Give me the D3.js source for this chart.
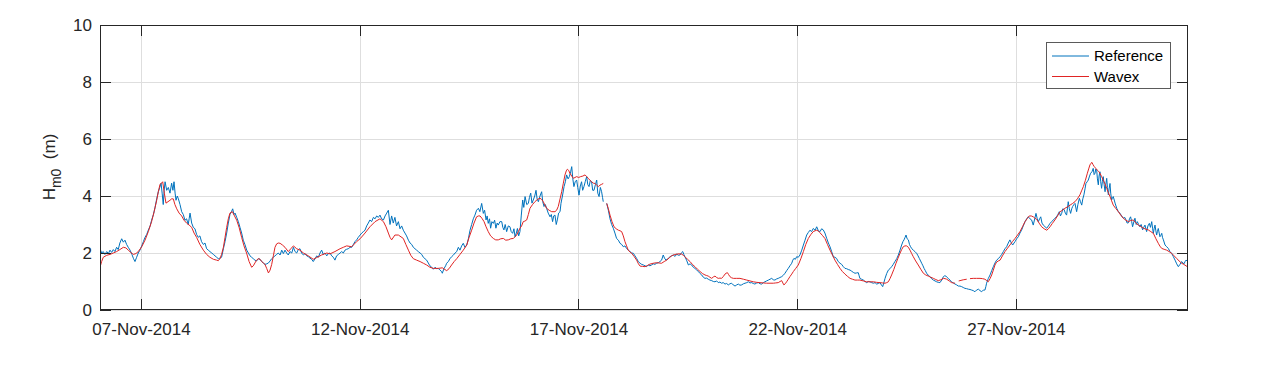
<!DOCTYPE html>
<html><head><meta charset="utf-8">
<script src="https://cdn.jsdelivr.net/npm/d3@7/dist/d3.min.js"></script>
<style>
html,body{margin:0;padding:0;background:#fff;}
svg{display:block;font-family:"Liberation Sans",Arial,Helvetica,sans-serif;}
</style></head>
<body><svg id="c" width="1274" height="370"></svg>
<script>
// ---- data: [hours since 06-Nov-2014 00:00, Hm0 (m)] ----
const xTickDates = ["2014-11-07","2014-11-12","2014-11-17","2014-11-22","2014-11-27"];
const yTicks = [0,2,4,6,8,10];
const seriesNames = ["Reference","Wavex"];
const timeRangeHours = [1.5, 598.4];

const referenceSeries = [
[1.5,2.15],[2.4,2.0],[3.3,2.05],[4.2,1.95],[5.2,2.05],[6.1,1.98],[7.0,2.1],[7.9,2.02],[8.8,2.12],[9.7,2.05],[10.6,2.2],[11.5,2.12],[12.4,2.35],[13.4,2.5],[14.3,2.38],[15.2,2.45],[16.1,2.3],[17.0,2.2],[18.0,2.1],[19.0,1.95],[19.9,1.8],[20.7,1.7],[21.6,1.85],[22.5,2.0],[23.4,2.1],[24.4,2.25],[25.3,2.4],[26.2,2.55],[27.1,2.65],[28.0,2.8],[29.0,2.95],[29.8,3.15],[30.8,3.35],[31.7,3.6],[32.6,3.9],[33.5,4.15],[34.3,4.3],[35.0,4.45],[35.6,4.1],[36.2,3.7],[36.7,4.2],[37.2,4.5],[38.1,4.2],[39.0,4.3],[39.9,4.1],[40.8,4.45],[41.5,4.2],[42.1,4.5],[42.7,4.1],[43.2,3.85],[43.9,4.0],[44.5,3.9],[45.4,3.7],[46.3,3.45],[47.2,3.35],[48.1,3.15],[49.0,3.2],[49.9,3.0],[50.4,3.2],[50.9,3.4],[51.8,3.05],[52.7,2.9],[53.6,2.85],[54.5,2.65],[55.4,2.55],[56.3,2.6],[57.2,2.4],[58.2,2.3],[59.1,2.35],[60.0,2.15],[60.9,2.1],[61.8,2.05],[62.8,2.0],[63.7,1.95],[64.6,1.9],[65.5,1.85],[66.4,1.8],[67.3,1.82],[68.2,1.85],[69.2,2.15],[70.1,2.4],[71.0,2.7],[71.9,3.05],[72.8,3.35],[73.6,3.45],[74.3,3.55],[75.0,3.35],[75.6,3.4],[76.5,3.25],[77.4,3.1],[78.3,2.9],[79.2,2.7],[80.1,2.45],[81.0,2.3],[82.0,2.1],[82.9,2.0],[83.8,1.9],[84.7,1.85],[85.6,1.8],[86.5,1.75],[87.4,1.72],[88.4,1.8],[89.3,1.78],[90.2,1.7],[91.1,1.65],[92.0,1.6],[93.0,1.62],[93.9,1.65],[94.8,1.72],[95.7,1.8],[96.6,1.85],[97.5,1.9],[98.4,1.95],[99.3,2.0],
[100.3,1.93],[101.2,2.1],[102.1,1.98],[103.0,2.1],[103.9,2.0],[104.8,1.93],[105.7,2.05],[106.7,2.0],[107.6,2.2],[108.5,2.05],[109.4,2.0],[110.3,2.12],[111.2,2.15],[112.1,2.0],[113.1,1.93],[114.0,1.98],[114.9,1.9],[115.8,1.87],[116.7,1.82],[117.6,1.78],[118.5,1.7],[119.5,1.8],[120.4,1.9],[121.3,1.85],[122.2,2.0],[123.1,2.1],[124.0,1.95],[124.9,2.0],[125.9,1.9],[126.8,1.98],[127.7,2.0],[128.6,1.9],[129.5,1.85],[130.4,1.75],[131.3,1.9],[132.3,1.95],[133.2,2.0],[134.1,2.05],[135.0,2.0],[135.9,2.1],[136.8,2.13],[137.7,2.15],[138.7,2.2],[139.6,2.2],[140.5,2.3],[141.4,2.4],[142.3,2.46],[143.2,2.55],[144.2,2.63],[145.1,2.7],[146.0,2.75],[146.9,2.8],[147.8,2.95],[148.7,3.05],[149.6,3.16],[150.5,3.1],[151.5,3.25],[152.4,3.2],[153.3,3.3],[154.2,3.25],[155.1,3.33],[156.0,3.2],[157.0,3.16],[157.9,3.3],[158.8,3.4],[159.7,3.5],[160.6,3.0],[161.5,3.3],[162.4,3.05],[163.3,3.25],[164.2,2.95],[165.2,3.1],[166.1,2.85],[167.0,2.95],[167.9,2.8],[168.8,2.7],[169.7,2.6],[170.7,2.45],[171.6,2.35],[172.5,2.3],[173.4,2.2],[174.3,2.15],[175.2,2.1],[176.1,2.05],[177.1,2.0],[178.0,1.95],[178.9,1.85],[179.8,1.8],[180.7,1.75],[181.6,1.65],[182.5,1.55],[183.5,1.5],[184.4,1.43],[185.3,1.5],[186.2,1.45],[187.1,1.46],[188.0,1.4],[188.9,1.35],[189.3,1.29],[190.2,1.45],[191.1,1.55],[191.7,1.64],[192.6,1.7],[193.5,1.8],[194.4,1.87],[195.3,1.92],[196.3,2.0],[197.2,2.05],[198.1,2.2],
[199.0,2.1],[199.9,2.25],[200.8,2.34],[201.7,2.2],[202.7,2.28],[203.6,2.5],[204.5,2.8],[205.4,3.0],[206.3,3.2],[207.2,3.33],[208.1,3.5],[209.1,3.57],[209.9,3.45],[210.9,3.74],[211.8,3.39],[212.5,3.5],[213.3,3.16],[213.9,3.3],[214.5,3.04],[215.2,3.2],[215.8,2.87],[216.5,3.1],[217.3,3.04],[218.0,3.15],[218.7,2.87],[219.4,3.05],[220.0,2.98],[220.9,3.1],[221.9,3.1],[222.5,2.9],[223.1,2.81],[223.8,3.0],[224.6,2.75],[225.5,2.95],[226.4,2.92],[227.1,2.75],[227.9,2.69],[228.6,2.85],[229.2,2.57],[229.9,2.7],[230.5,2.86],[231.2,2.6],[231.9,2.75],[232.6,3.3],[233.4,3.86],[234.0,3.6],[234.7,3.98],[235.6,3.7],[236.5,3.74],[237.1,3.95],[237.8,4.1],[238.5,3.75],[239.2,3.86],[240.0,4.0],[240.7,4.2],[241.3,3.9],[242.0,3.8],[242.9,4.0],[243.8,4.15],[244.4,3.8],[245.1,3.63],[245.8,3.7],[246.5,3.57],[247.4,3.4],[248.4,3.27],[249.1,3.35],[249.8,3.1],[250.4,3.3],[251.1,3.33],[251.8,3.0],[252.4,3.16],[253.1,3.4],[253.9,3.45],[254.4,3.74],[255.2,4.0],[256.1,4.33],[256.8,4.5],[257.5,4.74],[258.3,4.6],[259.0,4.68],[259.7,4.85],[260.3,5.03],[260.9,4.6],[261.5,4.33],[262.2,4.5],[263.0,4.56],[263.6,4.3],[264.3,4.03],[265.0,4.35],[265.7,4.5],[266.3,4.2],[267.0,4.33],[267.7,4.5],[268.5,4.68],[269.1,4.4],[269.8,4.33],[270.5,4.55],[271.2,4.5],[271.8,4.2],[272.5,4.2],[273.3,4.4],[274.0,4.56],[274.6,4.1],[275.3,3.98],[276.0,4.3],[276.7,4.15],[277.2,3.95],[277.6,3.8],[278.5,null],[279.5,3.74],[280.4,3.5],[281.3,3.2],[282.2,3.0],[283.1,2.87],[284.0,2.7],[284.9,2.51],[285.9,2.45],[286.8,2.34],[287.7,2.3],[288.6,2.22],[289.5,2.25],[290.4,2.16],[291.3,2.1],[292.3,2.05],[293.2,2.0],[294.1,1.99],[295.0,1.9],[295.9,1.81],[296.8,1.7],[297.8,1.64],
[298.7,1.6],[299.6,1.58],[300.5,1.55],[301.4,1.52],[302.3,1.58],[303.2,1.55],[304.1,1.58],[305.0,1.62],[305.9,1.6],[306.9,1.64],[307.8,1.66],[308.7,1.7],[309.6,1.75],[310.5,1.93],[311.2,1.82],[312.0,1.75],[313.1,1.8],[314.2,1.87],[315.1,1.9],[316.0,1.93],[317.0,1.88],[317.9,1.96],[318.8,1.92],[319.7,1.93],[320.4,2.0],[321.2,2.05],[321.8,1.95],[322.4,1.87],[323.3,1.75],[324.3,1.58],[325.2,1.62],[326.1,1.58],[327.0,1.5],[327.9,1.46],[328.9,1.4],[329.8,1.35],[330.7,1.28],[331.6,1.23],[332.5,1.15],[333.4,1.11],[334.3,1.12],[335.2,1.08],[336.1,1.05],[337.1,1.03],[338.0,1.0],[338.9,0.99],[339.8,1.02],[340.7,0.96],[341.6,0.98],[342.5,0.94],[343.4,0.96],[344.4,0.91],[345.3,0.93],[346.2,0.88],[347.1,0.92],[348.0,0.94],[348.9,0.88],[349.9,0.84],[350.8,0.88],[351.7,0.91],[352.6,0.87],[353.5,0.88],[354.5,0.92],[355.4,0.94],[356.3,0.96],[357.2,0.99],[358.1,0.95],[359.0,0.96],[359.9,0.93],[360.8,0.91],[361.8,0.95],[362.7,0.96],[363.6,0.92],[364.5,0.91],[365.4,0.96],[366.3,0.99],[367.2,1.02],[368.2,1.05],[369.1,1.08],[370.0,1.11],[370.9,1.06],[371.8,1.05],[372.7,1.09],[373.6,1.11],[374.5,1.14],[375.5,1.17],[376.4,1.22],[377.3,1.29],[378.2,1.38],[379.1,1.46],[380.0,1.55],[381.0,1.64],[381.6,1.75],[382.2,1.81],[383.0,1.78],[383.7,1.87],[384.6,1.85],[385.5,1.93],[386.5,2.1],[387.4,2.28],[388.3,2.45],[389.2,2.63],[390.1,2.72],[391.0,2.8],[391.9,2.75],[392.8,2.86],[393.8,2.8],[394.7,2.92],[395.6,2.78],
[396.5,2.75],[397.4,2.85],[398.3,2.81],[399.2,2.7],[400.2,2.51],[401.1,2.35],[402.0,2.22],[402.9,2.05],[403.8,1.87],[404.7,1.85],[405.6,1.81],[406.5,1.7],[407.5,1.64],[408.4,1.6],[409.3,1.52],[410.2,1.46],[411.1,1.45],[412.0,1.42],[413.0,1.4],[413.9,1.36],[414.8,1.32],[415.7,1.29],[416.6,1.3],[417.5,1.31],[418.0,1.2],[418.4,1.11],[419.3,1.08],[420.3,1.05],[421.2,1.0],[422.1,0.96],[423.0,1.0],[423.9,0.99],[424.8,0.96],[425.8,0.94],[426.7,0.96],[427.6,0.91],[428.5,0.93],[429.4,0.96],[430.2,0.88],[430.9,0.82],[431.5,0.95],[432.2,1.11],[433.1,1.28],[434.0,1.4],[434.9,1.45],[435.8,1.52],[436.7,1.6],[437.6,1.7],[438.6,1.8],[439.5,1.93],[440.4,2.1],[441.3,2.28],[442.0,2.4],[442.6,2.46],[443.2,2.55],[443.7,2.63],[444.3,2.5],[445.0,2.46],[445.6,2.3],[446.2,2.22],[446.9,2.15],[447.7,2.1],[448.6,2.05],[449.5,1.99],[450.3,1.9],[451.0,1.81],[451.7,1.72],[452.3,1.64],[453.0,1.55],[453.6,1.46],[454.3,1.38],[455.0,1.29],[455.9,1.22],[456.8,1.17],[457.7,1.1],[458.7,1.05],[459.6,1.02],[460.5,0.99],[461.4,0.97],[462.3,0.96],[463.3,1.05],[464.2,1.17],[464.9,1.2],[465.6,1.19],[466.3,1.14],[466.9,1.11],[467.8,1.05],[468.7,0.99],[469.6,0.95],[470.6,0.91],[471.5,0.88],[472.4,0.84],[473.3,0.84],[474.2,0.82],[475.1,0.79],[476.0,0.76],[476.9,0.75],[477.9,0.73],[478.8,0.72],[479.7,0.7],[480.6,0.68],[481.5,0.64],[482.4,0.7],[483.4,0.73],[484.3,0.68],[485.2,0.64],[486.1,0.7],[487.0,0.7],[487.5,0.82],[487.9,0.94],[488.8,1.1],[489.8,1.23],[490.7,1.38],[491.6,1.52],[492.5,1.65],[493.4,1.75],[494.3,1.8],
[495.3,1.87],[496.2,1.95],[497.1,2.05],[498.0,2.15],[498.9,2.22],[499.8,2.35],[500.7,2.46],[501.5,2.35],[502.2,2.28],[503.5,2.4],[504.4,2.5],[505.3,2.57],[506.2,2.7],[507.1,2.8],[508.0,2.95],[509.0,3.1],[509.9,3.2],[510.8,3.27],[511.7,3.2],[512.6,3.16],[513.5,2.98],[514.3,3.2],[515.0,3.39],[515.7,3.2],[516.3,3.1],[517.0,3.2],[517.6,3.27],[518.3,3.05],[519.0,2.98],[520.0,2.92],[520.9,2.87],[521.8,2.95],[522.7,3.04],[523.6,3.1],[524.5,3.16],[525.4,3.22],[526.3,3.27],[527.0,3.35],[527.8,3.45],[528.4,3.3],[529.1,3.39],[529.7,3.55],[530.4,3.53],[531.1,3.4],[531.8,3.33],[532.7,3.8],[533.3,3.55],[534.0,3.39],[534.6,3.55],[535.1,3.63],[535.8,3.7],[536.4,3.74],[537.3,3.45],[538.0,3.7],[538.8,3.92],[539.4,3.8],[540.1,3.68],[540.7,3.9],[541.3,4.04],[541.9,4.25],[542.4,4.44],[543.1,4.5],[543.7,4.56],[544.4,4.7],[545.0,4.8],[545.7,4.85],[546.4,4.97],[546.9,4.75],[547.4,4.8],[547.8,4.95],[548.3,4.91],[548.7,4.6],[549.2,4.39],[549.6,4.7],[550.1,4.85],[550.5,4.5],[551.0,4.27],[551.4,4.5],[551.9,4.68],[552.4,4.4],[552.9,4.15],[553.3,4.4],[553.8,4.62],[554.2,4.3],[554.7,4.04],[555.1,4.25],[555.6,4.44],[556.0,4.1],[556.5,3.86],[557.0,3.95],[557.4,3.98],[558.4,3.75],[559.3,3.57],[560.2,3.45],[561.1,3.39],[562.0,3.3],[562.9,3.22],[563.7,3.25],[564.4,3.16],[565.0,3.05],[565.7,3.06],[566.3,3.2],[566.9,3.27],[567.5,3.1],[568.0,2.92],[568.7,3.1],[569.3,3.22],[570.0,3.0],[570.6,3.1],[571.3,3.0],[572.0,2.92],[572.7,3.0],[573.5,2.81],[574.1,2.9],[574.8,2.98],[575.3,2.85],[575.7,2.75],[576.4,2.95],[577.2,3.04],[577.8,2.9],[578.5,3.1],[579.0,2.85],[579.4,2.69],[579.8,2.85],[580.3,2.98],[580.7,2.8],[581.2,2.63],[581.6,2.75],[582.1,2.86],[582.6,2.7],[583.0,2.57],[583.5,2.62],[584.0,2.69],[584.4,2.55],[584.9,2.46],[585.8,2.28],[586.7,2.22],[587.6,2.16],[588.5,2.05],[589.4,1.99],[590.3,1.88],[591.3,1.75],[592.2,1.62],[593.1,1.52],[594.0,1.6],[594.9,1.7],[595.6,1.65],[596.2,1.62],[596.8,1.7],[597.3,1.75],[598.0,1.72],[598.6,1.75]
];

const wavexSeries = [
[1.5,1.5],[2.4,1.7],[3.3,1.85],[5.2,1.92],[7.0,1.95],[8.8,2.0],[10.6,2.05],[12.4,2.12],[14.3,2.2],[15.7,2.18],[17.0,2.1],[18.4,2.02],[19.8,1.95],[21.2,1.98],[22.5,2.05],[24.4,2.22],[26.2,2.45],[28.0,2.75],[29.8,3.1],[31.2,3.45],[32.6,3.85],[33.5,4.15],[34.4,4.4],[35.9,4.5],[36.8,4.1],[37.7,3.75],[38.8,3.8],[39.9,3.85],[40.8,3.9],[41.7,3.9],[42.6,3.7],[43.6,3.55],[44.9,3.4],[46.3,3.3],[47.6,3.15],[49.0,3.05],[50.4,2.98],[51.8,2.9],[53.1,2.7],[54.5,2.55],[56.3,2.3],[58.2,2.1],[60.0,1.95],[61.8,1.85],[63.7,1.78],[65.5,1.75],[66.4,1.73],[67.3,1.8],[68.2,1.95],[69.2,2.2],[70.1,2.55],[71.0,2.9],[71.9,3.2],[72.8,3.4],[74.1,3.45],[75.3,3.3],[76.5,3.15],[77.8,2.9],[79.2,2.55],[80.5,2.25],[81.9,2.0],[83.3,1.7],[84.7,1.5],[85.6,1.55],[86.5,1.65],[87.4,1.75],[88.4,1.8],[89.3,1.78],[90.2,1.7],[91.1,1.65],[92.0,1.6],[93.0,1.45],[93.9,1.3],[94.8,1.4],[95.7,1.6],[96.6,1.9],[97.5,2.2],[98.4,2.32],[99.3,2.35],
[100.3,2.34],[101.6,2.28],[103.0,2.2],[104.8,2.05],[106.2,2.15],[107.6,2.25],[109.4,2.15],[111.2,2.1],[113.1,2.0],[115.8,1.9],[118.5,1.78],[120.4,1.84],[123.1,1.93],[125.9,2.0],[127.7,1.97],[130.4,2.05],[133.2,2.15],[135.0,2.2],[136.8,2.25],[139.6,2.22],[142.3,2.4],[144.2,2.5],[146.9,2.7],[149.6,2.92],[152.4,3.1],[155.1,3.2],[157.0,3.1],[158.4,2.92],[159.7,2.7],[160.6,2.55],[161.5,2.46],[163.3,2.63],[165.2,2.63],[167.9,2.51],[169.3,2.3],[170.7,2.1],[172.0,1.92],[173.4,1.8],[175.2,1.75],[177.1,1.7],[178.9,1.64],[180.7,1.58],[182.5,1.5],[184.4,1.46],[187.1,1.46],[189.3,1.48],[191.7,1.38],[193.0,1.45],[194.4,1.58],[195.8,1.7],[197.2,1.8],
[199.0,1.95],[200.8,2.1],[202.7,2.28],[204.0,2.55],[205.4,2.8],[206.7,3.05],[208.1,3.27],[209.1,3.3],[210.0,3.3],[211.0,3.22],[212.2,3.1],[213.3,2.92],[214.5,2.75],[215.8,2.6],[217.3,2.51],[218.6,2.46],[220.0,2.46],[221.4,2.5],[222.8,2.51],[224.1,2.45],[225.5,2.46],[226.9,2.5],[228.3,2.51],[230.1,2.63],[231.0,2.75],[231.9,2.87],[232.8,2.95],[233.7,3.1],[234.6,3.12],[235.6,3.16],[236.5,3.35],[237.4,3.57],[238.8,3.7],[240.1,3.8],[241.5,3.88],[242.9,3.92],[243.8,3.88],[244.7,3.8],[245.6,3.68],[246.5,3.57],[247.9,3.5],[249.3,3.45],[251.1,3.45],[252.0,3.5],[252.9,3.63],[253.9,3.9],[254.8,4.15],[255.7,4.45],[256.6,4.74],[257.3,4.88],[257.9,4.94],[258.6,4.9],[259.3,4.8],[260.3,4.7],[261.2,4.62],[262.1,4.65],[263.0,4.68],[264.1,4.65],[265.2,4.68],[266.4,4.7],[267.6,4.74],[268.5,4.68],[269.4,4.62],[270.3,4.55],[271.2,4.5],[272.2,4.45],[273.1,4.44],[274.0,4.38],[274.9,4.33],[275.8,4.38],[276.7,4.41],[277.6,4.44],[278.5,null],[279.5,3.74],[280.4,3.55],[281.3,3.33],[282.4,3.1],[283.5,2.92],[284.7,2.85],[285.9,2.8],[286.8,2.78],[287.7,2.75],[288.6,2.6],[289.5,2.4],[290.4,2.25],[291.3,2.1],[292.3,2.03],[293.2,1.99],[294.5,1.88],[295.9,1.75],[296.9,1.62],
[297.8,1.54],[299.1,1.53],[300.5,1.52],[301.8,1.56],[303.2,1.61],[305.0,1.64],[306.9,1.66],[308.2,1.65],[309.6,1.64],[311.0,1.7],[312.4,1.75],[313.8,1.83],[315.1,1.9],[316.5,1.94],[317.9,1.96],[319.2,1.97],[320.6,1.96],[321.5,1.92],[322.4,1.87],[323.8,1.78],[325.2,1.7],[326.5,1.6],[327.9,1.52],[329.3,1.43],[330.7,1.35],[332.0,1.28],[333.4,1.23],[334.3,1.21],[335.2,1.19],[336.1,1.15],[337.1,1.11],[338.0,1.16],[338.9,1.19],[339.8,1.14],[340.7,1.11],[341.6,1.12],[342.5,1.11],[343.4,1.17],[344.4,1.26],[345.0,1.29],[345.7,1.31],[346.4,1.24],[347.1,1.17],[348.0,1.13],[349.0,1.11],[350.8,1.11],[352.6,1.11],[354.5,1.08],[356.3,1.05],[358.1,1.02],[359.9,0.99],[361.8,0.97],[363.6,0.96],[365.4,0.95],[367.2,0.94],[369.1,0.94],[370.9,0.94],[372.2,0.95],[373.6,0.96],[374.6,1.0],[375.5,1.03],[376.1,0.95],[376.7,0.88],[377.4,0.92],[378.2,0.99],[379.1,1.08],[380.0,1.17],[381.0,1.26],[381.9,1.35],[383.2,1.46],[384.6,1.58],[386.0,1.8],[387.4,2.05],[388.7,2.3],[390.1,2.51],[391.5,2.65],[392.8,2.75],[393.8,2.78],[394.7,2.8],[395.6,2.77],
[396.5,2.71],[397.8,2.62],[399.2,2.51],[400.6,2.3],[402.0,2.1],[403.4,1.92],[404.7,1.75],[406.1,1.6],[407.5,1.46],[408.8,1.35],[410.2,1.26],[411.6,1.18],[413.0,1.11],[414.3,1.08],[415.7,1.05],[417.0,1.05],[418.4,1.05],[420.3,1.02],[422.1,0.99],[424.0,0.99],[425.8,0.99],[427.6,0.97],[429.4,0.96],[430.8,0.95],[432.2,0.94],[433.1,0.96],[434.0,0.99],[434.9,1.1],[435.8,1.23],[437.0,1.42],[438.2,1.64],[439.3,1.82],[440.4,1.99],[441.3,2.12],[442.2,2.22],[443.1,2.25],[444.0,2.25],[445.0,2.2],[445.9,2.1],[446.8,1.98],[447.7,1.87],[449.0,1.72],[450.4,1.58],[451.8,1.43],[453.2,1.29],[454.5,1.23],[455.9,1.19],[457.3,1.15],[458.7,1.11],[460.0,1.07],[461.4,1.03],[462.8,1.06],[464.2,1.11],[465.1,1.1],[466.0,1.08],[467.4,1.02],[468.7,0.96],[469.6,0.95],[470.6,0.94],[471.6,null],[472.6,1.02],[473.3,1.03],[475.1,1.06],[477.0,1.08],[477.9,null],[478.8,1.1],[480.6,1.11],[482.4,1.11],[484.3,1.11],[485.7,1.1],[487.0,1.08],[488.0,1.03],[488.8,0.99],[489.8,1.1],[490.7,1.23],[491.6,1.4],[492.5,1.58],[493.4,1.68],[494.3,1.72],
[495.3,1.75],[496.6,1.9],[498.0,2.05],[499.4,2.17],[500.7,2.28],[502.1,2.4],[503.5,2.51],[504.9,2.63],[506.2,2.75],[507.6,2.92],[509.0,3.1],[510.1,3.2],[511.3,3.3],[512.4,3.3],[513.5,3.27],[514.4,3.22],[515.4,3.18],[516.7,3.05],[518.1,2.92],[519.5,2.85],[520.9,2.8],[521.8,2.85],[522.7,2.92],[524.0,3.04],[525.4,3.16],[526.8,3.3],[528.2,3.45],[529.6,3.5],[530.9,3.57],[532.3,3.62],[533.7,3.68],[535.1,3.74],[536.4,3.8],[537.7,3.9],[539.1,4.04],[540.0,4.18],[541.0,4.33],[542.1,4.55],[543.2,4.8],[543.9,4.95],[544.6,5.09],[545.2,5.15],[545.7,5.18],[546.3,5.1],[547.0,5.03],[547.8,4.97],[548.6,4.91],[549.4,4.86],[550.1,4.8],[551.0,4.68],[551.9,4.56],[552.9,4.42],[553.8,4.27],[554.7,4.12],[555.6,3.98],[556.5,3.83],[557.4,3.68],[558.8,3.56],[560.2,3.45],[561.5,3.33],[562.9,3.22],[564.3,3.15],[565.7,3.1],[567.0,3.14],[568.4,3.16],[569.7,3.06],[571.1,2.98],[572.5,2.93],[573.9,2.87],[575.2,2.84],[576.6,2.81],[578.0,2.75],[579.4,2.69],[580.8,2.5],[582.1,2.34],[583.0,2.24],[584.0,2.16],[585.3,2.13],[586.7,2.1],[588.0,2.05],[589.4,1.99],[590.8,1.9],[592.2,1.81],[593.5,1.72],[594.9,1.64],[596.1,1.6],[597.3,1.55],[598.6,1.5]
];

// ---- rendering ----
const t0 = Date.UTC(2014, 10, 6);
const toDate = h => new Date(t0 + h * 3600e3);
const M = {left: 100, right: 1188, top: 25, bottom: 310};
const W = M.right - M.left, H = M.bottom - M.top;
const axisColor = "#262626";
const colors = {Reference: "#0072BD", Wavex: "#E02424"};

const svg = d3.select("#c");
const x = d3.scaleUtc().domain(timeRangeHours.map(toDate)).range([M.left, M.right]);
const y = d3.scaleLinear().domain([0, 10]).range([M.bottom, M.top]);
const xTicks = xTickDates.map(s => new Date(s + "T00:00:00Z"));
const fmt = d3.utcFormat("%d-%b-%Y");

svg.append("rect").attr("width", 1274).attr("height", 370).attr("fill", "#fff");

// grid
const grid = svg.append("g").attr("class", "grid");
grid.append("g").attr("transform", `translate(0,${M.bottom})`)
  .call(d3.axisBottom(x).tickValues(xTicks).tickSize(-H).tickFormat(""));
grid.append("g").attr("transform", `translate(${M.left},0)`)
  .call(d3.axisLeft(y).tickValues(yTicks).tickSize(-W).tickFormat(""));
grid.selectAll(".domain").remove();
grid.selectAll("line").attr("stroke", "#dedede").attr("stroke-width", 1).attr("shape-rendering", "crispEdges");

// clip
svg.append("defs").append("clipPath").attr("id", "clip")
  .append("rect").attr("x", M.left).attr("y", M.top).attr("width", W).attr("height", H);

const line = d3.line()
  .defined(d => d[1] !== null)
  .x(d => x(toDate(d[0])))
  .y(d => y(d[1]));

const plot = svg.append("g").attr("clip-path", "url(#clip)");
plot.append("path").datum(referenceSeries)
  .attr("fill", "none").attr("stroke", colors.Reference).attr("stroke-width", 1).attr("stroke-linejoin", "round")
  .attr("d", line);
plot.append("path").datum(wavexSeries)
  .attr("fill", "none").attr("stroke", colors.Wavex).attr("stroke-width", 1).attr("stroke-linejoin", "round")
  .attr("d", line);

// axes
const tickLen = 11;
function styleAxis(g, showLabels) {
  g.select(".domain").remove();
  g.selectAll("line").attr("stroke", axisColor).attr("stroke-width", 1).attr("shape-rendering", "crispEdges");
  g.selectAll("text").attr("fill", axisColor).attr("font-size", "17px")
    .attr("font-family", '"Liberation Sans", Arial, Helvetica, sans-serif');
  if (!showLabels) g.selectAll("text").remove();
}
svg.append("g").attr("transform", `translate(0,${M.bottom})`)
  .call(d3.axisBottom(x).tickValues(xTicks).tickSize(-tickLen).tickPadding(13).tickFormat(fmt))
  .call(g => styleAxis(g, true));
svg.append("g").attr("transform", `translate(0,${M.top})`)
  .call(d3.axisTop(x).tickValues(xTicks).tickSize(-tickLen).tickFormat(""))
  .call(g => styleAxis(g, false));
svg.append("g").attr("transform", `translate(${M.left},0)`)
  .call(d3.axisLeft(y).tickValues(yTicks).tickSize(-tickLen).tickPadding(8).tickFormat(d3.format("d")))
  .call(g => styleAxis(g, true));
svg.append("g").attr("transform", `translate(${M.right},0)`)
  .call(d3.axisRight(y).tickValues(yTicks).tickSize(-tickLen).tickFormat(""))
  .call(g => styleAxis(g, false));

// box
svg.append("rect").attr("x", M.left + 0.5).attr("y", M.top + 0.5)
  .attr("width", W - 1).attr("height", H - 1)
  .attr("fill", "none").attr("stroke", axisColor).attr("stroke-width", 1);

// y label
const yl = svg.append("text")
  .attr("transform", "translate(55,167) rotate(-90)")
  .attr("text-anchor", "middle").attr("fill", axisColor).attr("font-size", "17px");
yl.append("tspan").text("H");
yl.append("tspan").attr("font-size", "14px").attr("dy", 6).text("m0");
yl.append("tspan").attr("dy", -6).text("\u00a0\u00a0(m)");

// legend
const lg = svg.append("g");
lg.append("rect").attr("x", 1046.5).attr("y", 42.5).attr("width", 124).attr("height", 46)
  .attr("fill", "#fff").attr("stroke", "#5a5a5a").attr("stroke-width", 1);
seriesNames.forEach((name, i) => {
  const yy = 56 + i * 20.5;
  lg.append("line").attr("x1", 1052).attr("x2", 1089).attr("y1", yy).attr("y2", yy)
    .attr("stroke", colors[name]).attr("stroke-width", 1);
  lg.append("text").attr("x", 1094).attr("y", yy).attr("dy", "0.35em")
    .attr("font-size", "15px").attr("fill", "#000").text(name);
});
</script>
</body></html>
